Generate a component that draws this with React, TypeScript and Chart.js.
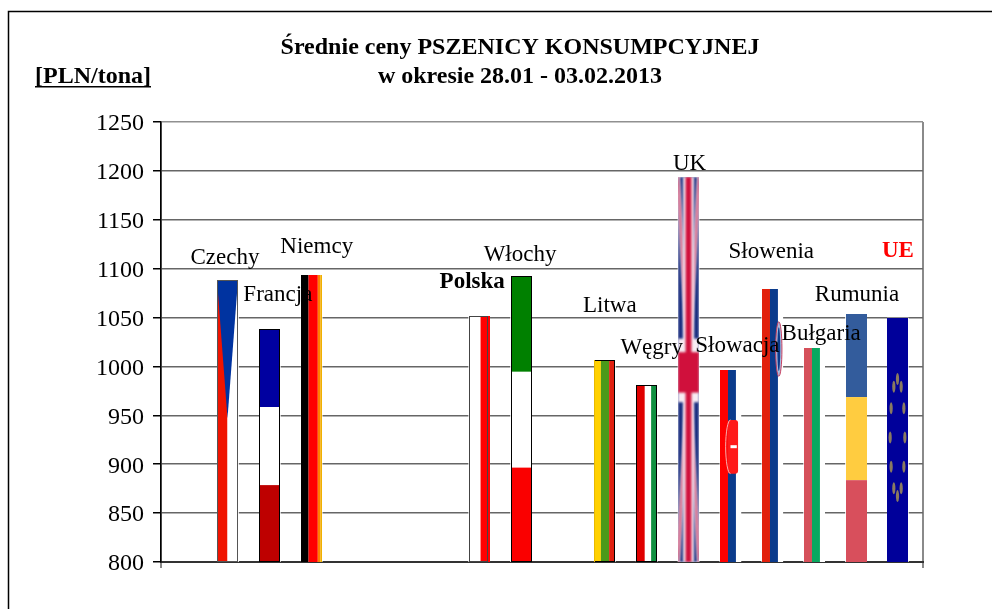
import React, { useEffect, useRef } from "react";
import { Chart, registerables } from "chart.js";

Chart.register(...registerables);

const categories = ["Czechy", "Francja", "Niemcy", "", "", "", "Polska", "Włochy", "", "Litwa", "Węgry", "UK", "Słowacja", "Słowenia", "Bułgaria", "Rumunia", "UE"];
const prices: (number | null)[] = [1088.5, 1038, 1093.5, null, null, null, 1051.5, 1092, null, 1006.5, 981.5, 1193.5, 996, 1079, 1019, 1053.5, 1049.5];
const titleLines = ["Średnie ceny PSZENICY KONSUMPCYJNEJ", "w okresie 28.01 - 03.02.2013"];
const unitLabel = "[PLN/tona]";
const yMin = 800;
const yMax = 1250;
const yStep = 50;

const SERIF = '"Liberation Serif", serif';

type Box = { x: number; y: number; w: number; h: number };
type Ctx = CanvasRenderingContext2D;

const vstripes = (c: Ctx, b: Box, stops: [number, string][]) => {
  stops.forEach(([f, col], i) => {
    const next = i + 1 < stops.length ? stops[i + 1][0] : 1;
    c.fillStyle = col;
    c.fillRect(b.x + f * b.w, b.y, (next - f) * b.w, b.h);
  });
};
const hstripes = (c: Ctx, b: Box, stops: [number, string][]) => {
  stops.forEach(([f, col], i) => {
    const next = i + 1 < stops.length ? stops[i + 1][0] : 1;
    c.fillStyle = col;
    c.fillRect(b.x, b.y + f * b.h, b.w, (next - f) * b.h);
  });
};
const outline = (c: Ctx, b: Box, col: string) => {
  c.strokeStyle = col;
  c.lineWidth = 1;
  c.strokeRect(b.x + 0.5, b.y + 0.5, b.w - 1, b.h - 1);
};

const painters: Record<string, (c: Ctx, b: Box) => void> = {
  Czechy(c, b) {
    vstripes(c, b, [[0, "#F01400"], [0.5, "#FFFFFF"]]);
    c.fillStyle = "#0033A0";
    c.beginPath();
    c.moveTo(b.x, b.y);
    c.lineTo(b.x + b.w, b.y);
    c.lineTo(b.x + b.w * 0.5, b.y + b.h * 0.49);
    c.closePath();
    c.fill();
    outline(c, b, "#555555");
  },
  Francja(c, b) {
    hstripes(c, b, [[0, "#0000A0"], [0.335, "#FFFFFF"], [0.67, "#BE0000"]]);
    outline(c, b, "#000000");
  },
  Niemcy(c, b) {
    vstripes(c, b, [[0, "#000000"], [0.36, "#FF0000"], [0.8, "#FF8000"], [0.92, "#F0B000"]]);
  },
  Polska(c, b) {
    vstripes(c, b, [[0, "#FFFFFF"], [0.55, "#FF0000"]]);
    c.strokeStyle = "#444444";
    c.lineWidth = 1;
    c.strokeRect(b.x + 0.5, b.y + 0.5, b.w - 3, b.h - 1);
  },
  "Włochy"(c, b) {
    hstripes(c, b, [[0, "#008000"], [0.335, "#FFFFFF"], [0.67, "#FA0000"]]);
    outline(c, b, "#000000");
  },
  Litwa(c, b) {
    vstripes(c, b, [[0, "#FFD000"], [0.33, "#4A9A1A"], [0.72, "#E02010"]]);
    outline(c, b, "#000000");
    c.fillStyle = "#E8B800";
    c.fillRect(b.x, b.y, 1, b.h);
  },
  "Węgry"(c, b) {
    vstripes(c, b, [[0, "#E00000"], [0.42, "#FFFFFF"], [0.72, "#109040"]]);
    outline(c, b, "#000000");
  },
  UK(c, b) {
    c.save();
    c.filter = "blur(0.8px)";
    c.translate(b.x, b.y);
    c.scale(b.w, b.h);
    c.fillStyle = "#1B2F80";
    c.fillRect(0, 0, 1, 1);
    c.lineCap = "butt";
    const diag = (col: string, t: number) => {
      c.strokeStyle = col;
      c.lineWidth = t;
      c.beginPath();
      c.moveTo(0, 0);
      c.lineTo(1, 1);
      c.moveTo(1, 0);
      c.lineTo(0, 1);
      c.stroke();
    };
    diag("#F4E4F0", 0.13);
    diag("#C8204A", 0.05);
    c.fillStyle = "#F8ECF4";
    c.fillRect(0.24, 0, 0.52, 1);
    c.fillRect(0, 0.42, 1, 0.165);
    c.fillStyle = "#D0103C";
    c.fillRect(0.36, 0, 0.28, 1);
    c.fillRect(0, 0.455, 1, 0.105);
    c.restore();
  },
  "Słowacja"(c, b) {
    vstripes(c, b, [[0, "#FF0000"], [0.38, "#0B3B8C"], [0.76, "#FFFFFF"]]);
    const cy = b.y + b.h * 0.26;
    const ch = b.h * 0.28;
    c.fillStyle = "#FF1A1A";
    c.beginPath();
    c.roundRect(b.x + b.w * 0.36, cy, b.w * 0.5, ch, 3);
    c.fill();
    c.strokeStyle = "#F8B0B0";
    c.lineWidth = 1;
    c.beginPath();
    c.ellipse(b.x + b.w * 0.5, cy + ch / 2, b.w * 0.23, ch / 2, 0, Math.PI / 2, (3 * Math.PI) / 2);
    c.stroke();
    c.fillStyle = "#FFFFFF";
    c.fillRect(b.x + b.w * 0.5, cy + ch * 0.47, b.w * 0.3, 3);
  },
  "Słowenia"(c, b) {
    vstripes(c, b, [[0, "#E2200C"], [0.38, "#0B3B8C"], [0.76, "#FFFFFF"]]);
    const cx = b.x + b.w * 0.8;
    const cy = b.y + b.h * 0.22;
    c.fillStyle = "#A8BCE0";
    c.strokeStyle = "#C84060";
    c.lineWidth = 1;
    c.beginPath();
    c.ellipse(cx, cy, b.w * 0.15, b.h * 0.1, 0, 0, Math.PI * 2);
    c.fill();
    c.stroke();
    c.fillStyle = "#0B3B8C";
    c.beginPath();
    c.ellipse(cx, cy, b.w * 0.07, b.h * 0.08, 0, 0, Math.PI * 2);
    c.fill();
  },
  "Bułgaria"(c, b) {
    vstripes(c, b, [[0, "#D5505A"], [0.38, "#0AA860"], [0.76, "#FFFFFF"]]);
  },
  Rumunia(c, b) {
    hstripes(c, b, [[0, "#335C9C"], [0.335, "#FFCC40"], [0.67, "#D84F5C"]]);
  },
  UE(c, b) {
    c.fillStyle = "#00009A";
    c.fillRect(b.x, b.y, b.w, b.h);
    const cx = b.x + b.w / 2;
    const cy = b.y + b.h * 0.49;
    c.save();
    c.filter = "blur(0.6px)";
    c.fillStyle = "#8A7A60";
    for (let i = 0; i < 12; i++) {
      const a = (i * Math.PI) / 6;
      c.beginPath();
      c.ellipse(cx + Math.cos(a) * b.w * 0.35, cy + Math.sin(a) * b.h * 0.24, 1.6, 6, 0, 0, Math.PI * 2);
      c.fill();
    }
    c.restore();
  },
};

// Label placement relative to the top-centre of each bar.
const labelOffsets: Record<string, [number, number]> = {
  Czechy: [-3, -22],
  Francja: [8, -34],
  Niemcy: [5, -28],
  Polska: [-7, -34],
  "Włochy": [-1, -22],
  Litwa: [5, -54],
  "Węgry": [5, -37],
  UK: [1, -13],
  "Słowacja": [7, -24],
  "Słowenia": [-1, -37],
  "Bułgaria": [7, -14],
  Rumunia: [1, -19],
  UE: [0, -67],
};

const flagPlugin = {
  id: "flags",
  beforeDraw(chart: any) {
    const c: Ctx = chart.ctx;
    c.save();
    c.strokeStyle = "#000000";
    c.lineWidth = 1.5;
    c.beginPath();
    c.moveTo(8.5, 609);
    c.lineTo(8.5, 11.5);
    c.lineTo(992, 11.5);
    c.stroke();
    c.restore();
  },
  afterLayout(chart: any) {
    if (chart.titleBlock) {
      chart.titleBlock.left = 0;
      chart.titleBlock.right = 1040;
    }
  },
  afterDatasetsDraw(chart: any) {
    const c: Ctx = chart.ctx;
    const bottom = chart.chartArea.bottom;
    const els = chart.getDatasetMeta(0).data;
    els.forEach((el: any, i: number) => {
      const name = categories[i];
      if (!name || prices[i] == null) return;
      const { x, y, width } = el.getProps(["x", "y", "width"], true);
      const b = { x: Math.round(x - width / 2), y: Math.round(y), w: Math.round(width), h: Math.round(bottom - y) };
      c.save();
      c.beginPath();
      c.rect(b.x, b.y, b.w, b.h);
      c.clip();
      painters[name]?.(c, b);
      c.restore();
    });
    els.forEach((el: any, i: number) => {
      const name = categories[i];
      if (!name || prices[i] == null) return;
      const [dx, dy] = labelOffsets[name];
      const bold = name === "Polska" || name === "UE";
      c.save();
      c.font = `${bold ? "bold " : ""}23px ${SERIF}`;
      c.fillStyle = name === "UE" ? "#FF0000" : "#000000";
      c.textAlign = "center";
      c.textBaseline = "middle";
      c.fillText(name, el.x + dx, el.y + dy);
      c.restore();
    });
    c.save();
    c.font = `bold 24px ${SERIF}`;
    c.fillStyle = "#000000";
    c.textBaseline = "alphabetic";
    c.fillText(unitLabel, 35, 83);
    const w = c.measureText(unitLabel).width;
    c.fillRect(35, 86, w, 1.5);
    c.restore();
  },
};

export default function App() {
  const ref = useRef<HTMLCanvasElement>(null);
  useEffect(() => {
    if (!ref.current) return;
    const chart = new Chart(ref.current, {
      type: "bar",
      data: {
        datasets: [
          {
            data: prices.map((v, i) => ({ x: i, y: v })) as any,
            backgroundColor: "#FFFFFF",
            borderWidth: 0,
            barThickness: 21,
          },
        ],
      },
      options: {
        animation: false,
        responsive: false,
        layout: { padding: { left: 8, right: 69, top: 0, bottom: 0 } },
        plugins: {
          legend: { display: false },
          tooltip: { enabled: false },
          title: {
            display: true,
            text: titleLines,
            color: "#000000",
            font: { family: SERIF, size: 24, weight: "bold", lineHeight: 1.208 },
            padding: { top: 33, bottom: 31 },
          },
        },
        scales: {
          x: {
            type: "linear",
            min: -1.6,
            max: 16.6,
            offset: false,
            afterBuildTicks(s: any) {
              s.ticks = [{ value: s.min }, { value: s.max }];
            },
            afterFit(s: any) {
              s.height = 47;
            },
            ticks: { display: false },
            border: { display: true, color: "#333333", width: 2 },
            grid: { display: true, offset: false, color: "#8A8A8A", lineWidth: 2, tickLength: 6, drawOnChartArea: true },
          },
          y: {
            min: yMin,
            max: yMax,
            afterFit(s: any) {
              s.width = 153;
            },
            ticks: {
              stepSize: yStep,
              padding: 9,
              labelOffset: 2,
              color: "#000000",
              font: { family: SERIF, size: 24 },
              callback: (v: any) => String(v),
            },
            border: { display: true, color: "#000000", width: 1.5 },
            grid: {
              color: (ctx: any) => (ctx.tick?.value === yMax ? "#909090" : "#666666"),
              tickColor: "#000000",
              lineWidth: 1.5,
              tickLength: 8,
            },
          },
        },
      },
      plugins: [flagPlugin],
    } as any);
    return () => chart.destroy();
  }, []);
  return (
    <div style={{ position: "absolute", left: 0, top: 0, width: 992, height: 609, background: "#fff" }}>
      <canvas ref={ref} width={992} height={609} style={{ display: "block" }} />
    </div>
  );
}
